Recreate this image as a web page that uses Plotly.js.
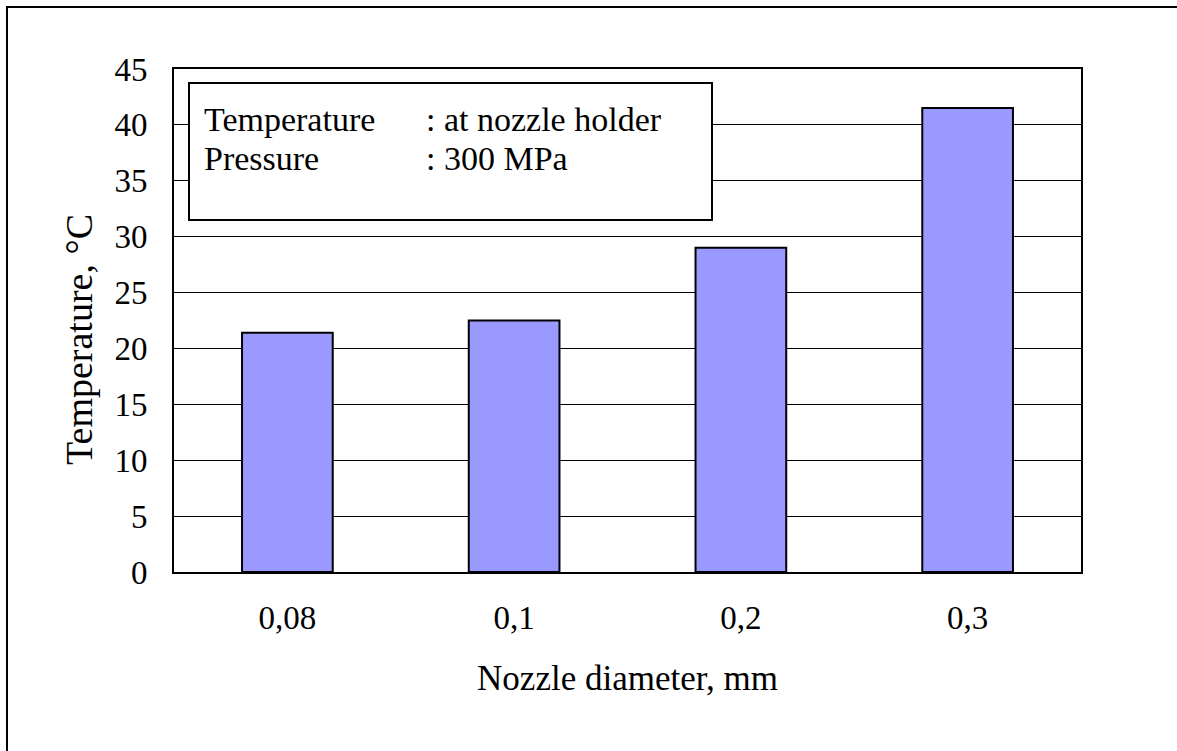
<!DOCTYPE html>
<html><head><meta charset="utf-8">
<script src="https://cdn.plot.ly/plotly-3.0.1.min.js"></script>
<style>html,body{margin:0;padding:0;background:#fff}#c{width:1177px;height:751px}</style>
</head><body><div id="c"></div>
<script>
const categories = ["0,08", "0,1", "0,2", "0,3"];
const temperatures = [21.4, 22.5, 29.0, 41.5];
const yTicks = [0, 5, 10, 15, 20, 25, 30, 35, 40, 45];
const noteLabels = ["Temperature", "Pressure"];
const noteValues = [": at nozzle holder", ": 300 MPa"];
const xTitle = "Nozzle diameter, mm";
const yTitle = "Temperature, °C";

const F = "Liberation Serif, Times New Roman, serif";
const W = 1177, H = 751, L = 174, R = 96, T = 69, B = 179;
const pw = W - L - R, ph = H - T - B;
const px = x => (x - L) / pw;
const py = y => 1 - (y - T) / ph;

const annotations = [];
noteLabels.forEach((t, i) => {
  annotations.push({xref:'paper', yref:'paper', x:px(202), y:py(119 + i*39), xanchor:'left', yanchor:'middle', text:t, showarrow:false, font:{family:F, size:34, color:'#000'}});
  annotations.push({xref:'paper', yref:'paper', x:px(424), y:py(119 + i*39), xanchor:'left', yanchor:'middle', text:noteValues[i], showarrow:false, font:{family:F, size:34, color:'#000'}});
});
annotations.push({xref:'paper', yref:'paper', x:px(79), y:py(340), xanchor:'center', yanchor:'middle', textangle:-90, text:yTitle, showarrow:false, font:{family:F, size:38, color:'#000'}});

Plotly.newPlot('c', [{
  type:'bar', x:categories, y:temperatures,
  marker:{color:'#9999FF', line:{color:'#000', width:2}},
  width:0.4, hoverinfo:'none'
}], {
  width:W, height:H, margin:{l:L, r:R, t:T, b:B},
  paper_bgcolor:'#fff', plot_bgcolor:'#fff', showlegend:false,
  font:{family:F, color:'#000'},
  xaxis:{type:'category', showline:true, linecolor:'#000', linewidth:2, mirror:true, ticks:'', showgrid:false,
    tickfont:{family:F, size:33}, ticklabelstandoff:15,
    title:{text:xTitle, font:{family:F, size:35}, standoff:31}},
  yaxis:{range:[0,45], tickvals:yTicks, showline:true, linecolor:'#000', linewidth:2, mirror:true,
    ticks:'', showgrid:true, gridcolor:'#000', gridwidth:1,
    tickfont:{family:F, size:33}, ticklabelstandoff:18, zeroline:false},
  shapes:[
    {type:'rect', xref:'paper', yref:'paper', x0:px(189), x1:px(712), y0:py(83), y1:py(220), line:{color:'#000', width:2}, fillcolor:'#fff', layer:'above'},
    {type:'rect', xref:'paper', yref:'paper', x0:px(7), x1:px(1200), y0:py(7), y1:py(780), line:{color:'#000', width:2}, layer:'below'}
  ],
  annotations: annotations
}, {staticPlot:true});
</script></body></html>
